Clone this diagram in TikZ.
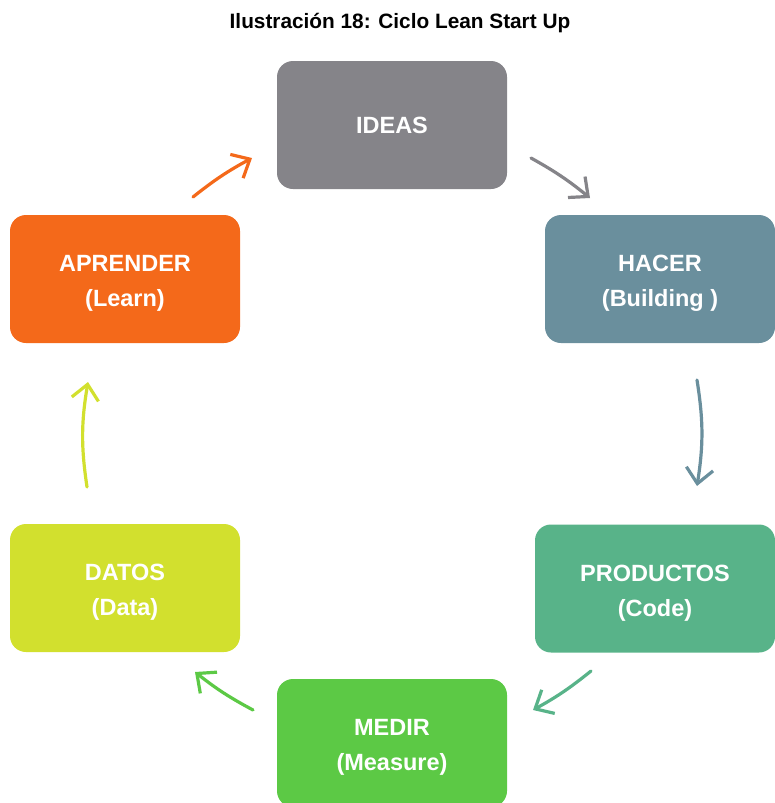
\documentclass[tikz,border=0pt]{standalone}
\usepackage{fontspec}
\setmainfont{Liberation Sans}
\usetikzlibrary{arrows.meta}
\definecolor{cIdeas}{HTML}{858489}
\definecolor{cHacer}{HTML}{6A8F9D}
\definecolor{cProd}{HTML}{58B389}
\definecolor{cMedir}{HTML}{5CC945}
\definecolor{cDatos}{HTML}{D2E02E}
\definecolor{cLearn}{HTML}{F4691A}
\newcommand{\lowstrut}{\rule{0pt}{25pt}}
\begin{document}
\begin{tikzpicture}[x=1pt,y=-1pt,
  stage/.style={rectangle, rounded corners=16pt, inner sep=0pt,
    minimum width=230pt, minimum height=128pt, align=center,
    text=white, font=\bfseries\fontsize{23.5}{35}\selectfont},
  cyc/.style={line width=3.2pt, line cap=round,
    -{Straight Barb[length=15pt,width=27pt,line width=3.2pt]}}]
\useasboundingbox (0,0) rectangle (774,803);
\node[font=\bfseries\fontsize{20.8}{24}\selectfont] (title) at (400,23) {Ilustración 18: Ciclo Lean Start Up};

\node[stage, fill=cIdeas] (ideas) at (392,125) {IDEAS};
\node[stage, fill=cHacer] (hacer) at (660,279) {\lowstrut HACER\\(Building )};
\node[stage, fill=cProd, minimum width=240pt] (prod) at (655,588.5) {\lowstrut PRODUCTOS\\(Code)};
\node[stage, fill=cMedir] (medir) at (392,743) {\lowstrut MEDIR\\(Measure)};
\node[stage, fill=cDatos] (datos) at (125,588) {\lowstrut DATOS\\(Data)};
\node[stage, fill=cLearn] (learn) at (125,279) {\lowstrut APRENDER\\(Learn)};

% connector ends
\coordinate (a1s) at (193,197); \coordinate (a1e) at (252,158);
\coordinate (a2s) at (531,158); \coordinate (a2e) at (590,198);
\coordinate (a3s) at (697,380); \coordinate (a3e) at (697,486);
\coordinate (a4s) at (591,671); \coordinate (a4e) at (533,710);
\coordinate (a5s) at (253,710); \coordinate (a5e) at (195,672);
\coordinate (a6s) at (87,487);  \coordinate (a6e) at (88,382);

\draw[cyc, cLearn] (a1s) to[bend left=5] (a1e);
\draw[cyc, cIdeas] (a2s) to[bend left=5] (a2e);
\draw[cyc, cHacer] (a3s) to[bend left=9] (a3e);
\draw[cyc, cProd] (a4s) to[bend left=5] (a4e);
\draw[cyc, cMedir] (a5s) to[bend left=5] (a5e);
\draw[cyc, cDatos] (a6s) to[bend left=9] (a6e);
\end{tikzpicture}
\end{document}
